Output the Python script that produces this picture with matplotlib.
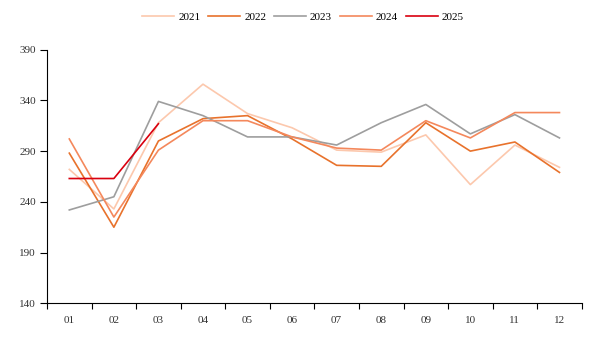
import matplotlib
matplotlib.use("Agg")
import matplotlib.pyplot as plt

months = ["01", "02", "03", "04", "05", "06", "07", "08", "09", "10", "11", "12"]
years = ["2021", "2022", "2023", "2024", "2025"]

v2021 = [272, 233, 318, 356, 327, 313, 291, 289, 306, 257, 296, 274]
v2022 = [288, 215, 300, 322, 325, 302, 276, 275, 318, 290, 299, 269]
v2023 = [232, 245, 339, 325, 304, 304, 296, 318, 336, 307, 326, 303]
v2024 = [302, 225, 291, 320, 320, 304, 293, 291, 320, 303, 328, 328]
v2025 = [263, 263, 317]

colors = ["#fcc8ad", "#e8722c", "#9e9e9e", "#f4885c", "#d9000f"]

plt.rcParams["font.family"] = ["Liberation Serif", "DejaVu Serif"]

fig = plt.figure(figsize=(6.06, 3.41), dpi=100)
ax = fig.add_axes([0.0776, 0.1106, 0.8824, 0.7437])

series = [v2021, v2022, v2023, v2024, v2025]
for name, vals, c in zip(years, series, colors):
    xs = [i + 0.5 for i in range(len(vals))]
    ax.plot(xs, vals, color=c, lw=1.2, label=name)

ax.set_xlim(0, 12)
ax.set_ylim(140, 390)
ax.set_yticks([140, 190, 240, 290, 340, 390])
ax.set_xticks(range(13))
ax.set_xticklabels([])
ax.set_xticks([i + 0.5 for i in range(12)], minor=True)
ax.set_xticklabels(months, minor=True)
ax.tick_params(axis="x", which="major", length=4, width=0.8, color="black")
ax.tick_params(axis="x", which="minor", length=0, pad=9, labelsize=8, labelcolor="#333333")
ax.tick_params(axis="y", length=5, width=0.8, pad=3, labelsize=8, labelcolor="#333333")

for s in ["top", "right"]:
    ax.spines[s].set_visible(False)
for s in ["left", "bottom"]:
    ax.spines[s].set_linewidth(0.8)

fig.legend(loc="center", bbox_to_anchor=(0.5, 0.95), ncol=5, frameon=False,
           fontsize=8, handlelength=2.9, columnspacing=0.7, handletextpad=0.35)

fig.savefig("out.png", dpi=100)
